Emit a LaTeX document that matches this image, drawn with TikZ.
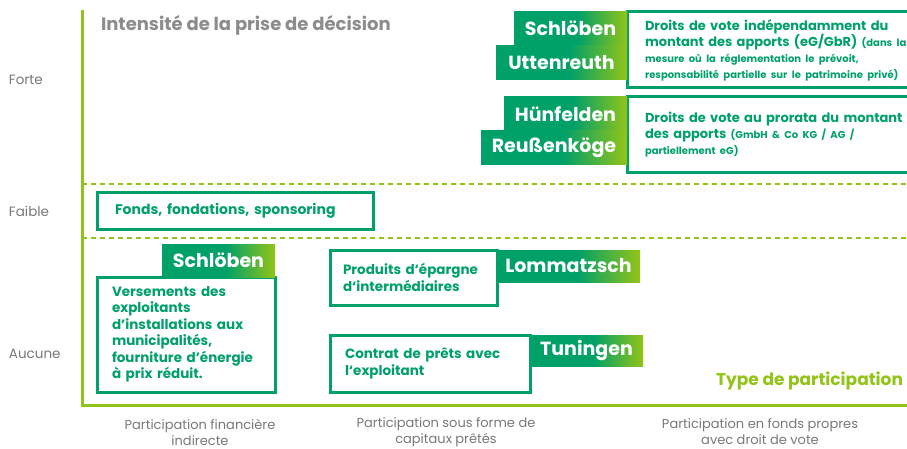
\documentclass[tikz,border=0pt]{standalone}
\usepackage{fontspec}
\setmainfont{Poppins}
\usetikzlibrary{positioning}
\definecolor{darkgreen}{RGB}{0,160,105}
\definecolor{limegreen}{RGB}{146,196,24}
\definecolor{axisgray}{RGB}{120,120,120}
\pgfdeclarehorizontalshading{tagfade}{100bp}{color(0bp)=(darkgreen); color(25bp)=(darkgreen); color(53bp)=(darkgreen); color(75bp)=(limegreen); color(100bp)=(limegreen)}

\begin{document}
\begin{tikzpicture}[x=1pt, y=-1pt, every node/.style={inner sep=0pt, outer sep=0pt}]
\tikzstyle{box}=[draw=darkgreen, line width=3pt, fill=white, text=darkgreen, align=left, font=\fontsize{13.5}{16.5}\selectfont\bfseries, inner xsep=15pt, anchor=north west]
\tikzstyle{tag}=[shade, shading=tagfade, text=white, font=\fontsize{19}{22}\selectfont\bfseries, minimum height=33pt]
\tikzstyle{level}=[text=axisgray, font=\fontsize{13.5}{15}\selectfont, anchor=west]
\tikzstyle{kind}=[text=axisgray, font=\fontsize{13}{16}\selectfont, align=center]
\tikzstyle{guide}=[limegreen, line width=1.5pt, dash pattern=on 5pt off 4pt]
\newcommand{\note}[1]{{\fontsize{10}{12}\selectfont #1}}
\newcommand{\apos}{\char"0027\relax}

\useasboundingbox (0,0) rectangle (907,449);
\clip (0,0) rectangle (907,449);

% axes and level separators
\draw[guide] (82,184) -- (907,184);
\draw[guide] (82,238) -- (907,238);
\draw[limegreen, line width=3pt] (82,10) -- (82,405) -- (910,405);

\node[anchor=west, text=axisgray!85, font=\fontsize{18}{20}\selectfont\bfseries] (yaxis) at (101,25) {Intensité de la prise de décision};
\node[anchor=east, text=limegreen, font=\fontsize{17}{20}\selectfont\bfseries] (xaxis) at (903,381) {Type de participation};

\node[level] (forte) at (9,80) {Forte};
\node[level] (faible) at (9,211) {Faible};
\node[level] (aucune) at (9,354) {Aucune};

\node[kind] (indirect) at (200,432) {Participation financière\\indirecte};
\node[kind] (loan) at (446,432) {Participation sous forme de\\capitaux prêtés};
\node[kind] (equity) at (760,432) {Participation en fonds propres\\avec droit de vote};

% low intensity
\node[box, text width=240pt, minimum height=36pt, inner xsep=18pt, font=\fontsize{14}{16}\selectfont\bfseries] (fonds) at (97,193) {Fonds, fondations, sponsoring};

% no decision making
\node[box, text width=148pt, minimum height=115pt] (vers) at (97,277) {Versements des\\exploitants\\d\apos installations aux\\municipalités,\\fourniture d\apos énergie\\à prix réduit.};
\node[tag, minimum width=113pt, above left=0pt of vers.north east] (schlLow) {Schlöben};

\node[box, text width=141pt, minimum height=55pt, inner xsep=13pt] (epargne) at (330,250) {Produits d`épargne\\d`intermédiaires};
\node[tag, minimum width=143pt, minimum height=32pt, anchor=north west] (lommatzsch) at (epargne.north east) {Lommatzsch};

\node[box, text width=170pt, minimum height=57pt] (pret) at (330,335) {Contrat de prêts avec\\l`exploitant};
\node[tag, minimum width=113pt, minimum height=31pt, anchor=north west] (tuningen) at (pret.north east) {Tuningen};

% strong decision making
\node[box, text width=275pt, minimum height=76pt, inner xsep=18pt, font=\fontsize{13}{16}\selectfont\bfseries] (voteEqual) at (627,12) {Droits de vote indépendamment du\\montant des apports (eG/GbR) \note{(dans la}\\\note{mesure où la réglementation le prévoit,}\\\note{responsabilité partielle sur le patrimoine privé)}};
\node[tag, minimum width=113pt, anchor=north east] (schlHigh) at (voteEqual.north west) {Schlöben};
\node[tag, minimum width=131pt, minimum height=34pt, below left=1pt and 0pt of schlHigh.south east] (uttenreuth) {Uttenreuth};

\node[box, text width=275pt, minimum height=76pt, inner xsep=18pt, font=\fontsize{13}{16}\selectfont\bfseries] (voteShare) at (627,97) {Droits de vote au prorata du montant\\des apports \note{(GmbH \& Co KG / AG /}\\\note{partiellement eG)}\\[6pt]};
\node[tag, minimum width=123pt, minimum height=34pt, anchor=north east] (huenfelden) at (voteShare.north west) {Hünfelden};
\node[tag, minimum width=146pt, minimum height=34pt, below left=0pt of huenfelden.south east] (reussen) {Reußenköge};
\end{tikzpicture}
\end{document}
